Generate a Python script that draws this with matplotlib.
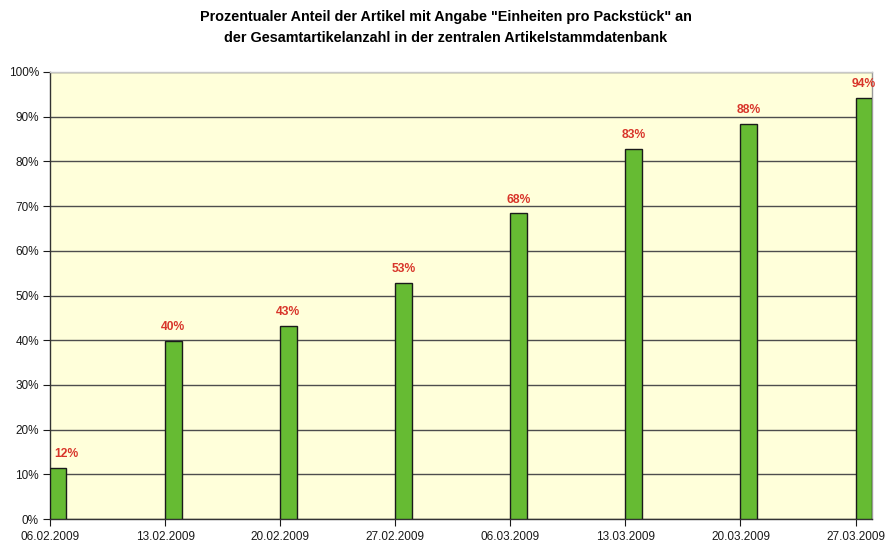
import datetime as dt
import matplotlib
matplotlib.use('Agg')
import matplotlib.pyplot as plt
import matplotlib.dates as mdates
from matplotlib.ticker import FuncFormatter, MultipleLocator

# Data
dates = ['06.02.2009', '13.02.2009', '20.02.2009', '27.02.2009',
         '06.03.2009', '13.03.2009', '20.03.2009', '27.03.2009']
shares = [11.5, 39.8, 43.2, 52.8, 68.4, 82.8, 88.4, 94.2]
labels = ['12%', '40%', '43%', '53%', '68%', '83%', '88%', '94%']

title = ('Prozentualer Anteil der Artikel mit Angabe "Einheiten pro Packstück" an\n'
         'der Gesamtartikelanzahl in der zentralen Artikelstammdatenbank')

plt.rcParams['font.family'] = ['Liberation Sans', 'DejaVu Sans']

x = [dt.datetime.strptime(d, '%d.%m.%Y') for d in dates]

fig = plt.figure(figsize=(8.91, 5.45), dpi=100)
ax = fig.add_axes([50 / 891, 1 - 519 / 545, 822 / 891, 447 / 545])
ax.set_facecolor('#FFFFDA')

ax.bar(x, shares, width=1.0, align='edge', color='#66BB33',
       edgecolor='#1a1a1a', linewidth=1.0, zorder=3)

for i, (xi, v, lab) in enumerate(zip(x, shares, labels)):
    # first label sits a little right so it stays clear of the axis
    dx = 6 if i == 0 else 0
    ax.annotate(lab, (mdates.date2num(xi) + 0.5, v), xytext=(dx, 5.5),
                textcoords='offset points', ha='center', va='bottom',
                color='#D8352A', fontsize=8.7, fontweight='bold',
                annotation_clip=False)

ax.set_ylim(0, 100)
ax.yaxis.set_major_locator(MultipleLocator(10))
ax.yaxis.set_major_formatter(FuncFormatter(lambda v, p: f'{v:.0f}%'))
ax.grid(axis='y', color='#4d4d4d', linewidth=1.0, zorder=1)

ax.set_xlim(mdates.date2num(x[0]), mdates.date2num(x[-1]) + 1)
ax.set_xticks(x)
ax.set_xticklabels(dates)

ax.tick_params(axis='both', labelsize=8.5, colors='#1a1a1a', direction='out')
ax.tick_params(axis='y', length=5, pad=3)
ax.tick_params(axis='x', length=5, pad=4)

ax.spines['left'].set_color('#333333')
ax.spines['bottom'].set_color('#333333')
ax.spines['top'].set_color('#c8c8c8')
ax.spines['right'].set_color('#9a9a9a')
for s in ax.spines.values():
    s.set_linewidth(1.0)

fig.text(0.5, 1 - 10 / 545, title, ha='center', va='top',
         fontsize=10.4, fontweight='bold', linespacing=1.6)

fig.savefig('out.png', dpi=100)
